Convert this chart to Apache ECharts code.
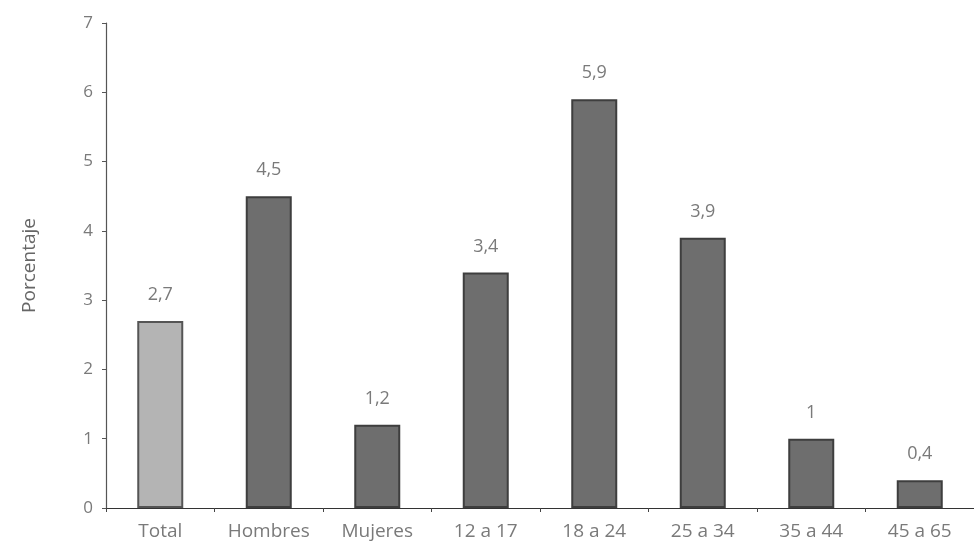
<!DOCTYPE html>
<html>
<head>
<meta charset="utf-8">
<script src="https://cdn.jsdelivr.net/npm/echarts@6/dist/echarts.min.js"></script>
<style>html,body{margin:0;padding:0;background:#fff}#c{width:974px;height:547px}</style>
</head>
<body>
<div id="c"></div>
<script>
const categories = ["Total", "Hombres", "Mujeres", "12 a 17", "18 a 24", "25 a 34", "35 a 44", "45 a 65"];
const values = [2.7, 4.5, 1.2, 3.4, 5.9, 3.9, 1, 0.4];
const yTicks = [0, 1, 2, 3, 4, 5, 6, 7];
const yName = "Porcentaje";

const chart = echarts.init(document.getElementById('c'));
const font = "'Open Sans', sans-serif";
chart.setOption({
  animation: false,
  backgroundColor: '#ffffff',
  grid: { left: 106, right: -6, top: 23, bottom: 39 },
  xAxis: {
    type: 'category',
    data: categories,
    axisLine: { lineStyle: { color: '#333', width: 1.2 } },
    axisTick: { show: true, length: 4, lineStyle: { color: '#444' } },
    axisLabel: { color: '#7a7a7a', fontFamily: font, fontSize: 19, margin: 14 }
  },
  yAxis: {
    type: 'value',
    min: yTicks[0],
    max: yTicks[yTicks.length - 1],
    interval: 1,
    name: yName,
    nameLocation: 'middle',
    nameGap: 67,
    nameTextStyle: { color: '#666', fontFamily: font, fontSize: 19 },
    splitLine: { show: false },
    axisLine: { show: true, lineStyle: { color: '#555', width: 1.2 } },
    axisTick: { show: true, length: 4, lineStyle: { color: '#555' } },
    axisLabel: { color: '#7a7a7a', fontFamily: font, fontSize: 17, margin: 13 }
  },
  series: [{
    type: 'bar',
    barWidth: 46,
    data: values.map((v, i) => ({
      value: v,
      itemStyle: i === 0
        ? { color: '#b4b4b4', borderColor: '#555', borderWidth: 2 }
        : { color: '#6e6e6e', borderColor: '#3e3e3e', borderWidth: 2 }
    })),
    label: {
      show: true,
      position: 'top',
      distance: 17,
      color: '#7a7a7a',
      fontFamily: font,
      fontSize: 18,
      formatter: p => String(p.value).replace('.', ',')
    }
  }]
});
</script>
</body>
</html>
